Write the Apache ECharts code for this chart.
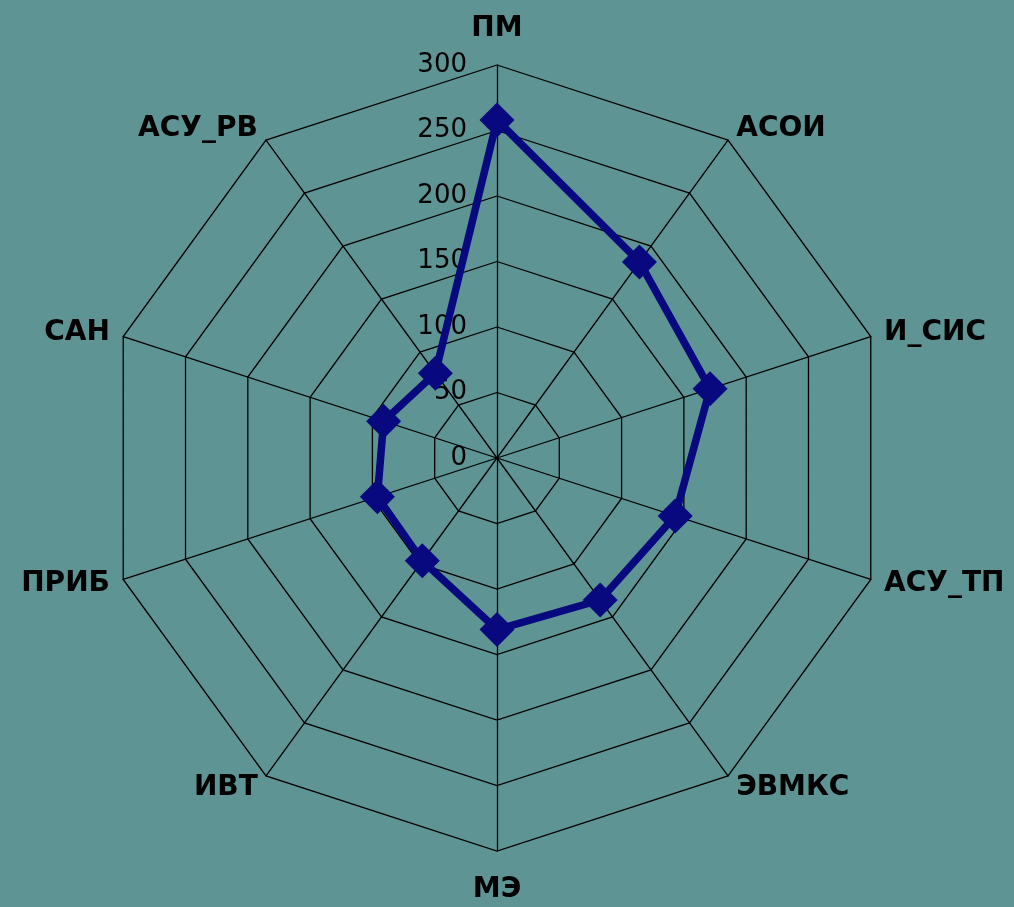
<!DOCTYPE html>
<html><head><meta charset="utf-8">
<script src="https://cdn.jsdelivr.net/npm/echarts@6/dist/echarts.min.js"></script>
<style>html,body{margin:0;padding:0;background:#5f9494;}#c{width:1014px;height:907px;}</style>
</head><body><div id="c"></div>
<script>
const categories = ['ПМ','АСОИ','И_СИС','АСУ_ТП','ЭВМКС','МЭ','ИВТ','ПРИБ','САН','АСУ_РВ'];
const values = [258,185,171,143,134,131,97,96,91,80];
const axisMax = 300;
const tickCount = 6;

// ECharts radar runs counter-clockwise; reorder so categories go clockwise from top
const order = categories.map((_, i) => i === 0 ? 0 : categories.length - i);
const font = 'DejaVu Sans';
const nameStyle = { color: '#000', fontSize: 28, fontWeight: 'bold', fontFamily: font };

const chart = echarts.init(document.getElementById('c'));
chart.setOption({
  backgroundColor: '#5f9494',
  animation: false,
  radar: {
    center: [497, 458],
    radius: 393,
    startAngle: 90,
    shape: 'polygon',
    splitNumber: tickCount,
    indicator: order.map((k, i) => {
      const o = { name: categories[k], min: 0, max: axisMax };
      if (i === 0) o.axisLabel = { show: true, color: '#000', fontSize: 26, fontFamily: font, margin: 30 };
      return o;
    }),
    axisName: Object.assign({}, nameStyle, {
      formatter: function (name) {
        if (name === categories[0]) return '{t|' + name + '}';
        if (name === categories[5]) return '{b|' + name + '}';
        return name;
      },
      rich: {
        t: Object.assign({}, nameStyle, { padding: [0, 0, 8, 0] }),
        b: Object.assign({}, nameStyle, { padding: [11, 0, 0, 0] })
      }
    }),
    nameGap: 14,
    axisLine: { lineStyle: { color: '#000', width: 1.3 } },
    splitLine: { lineStyle: { color: '#000', width: 1.3 } },
    splitArea: { show: false },
    axisTick: { show: false },
    axisLabel: { show: false }
  },
  series: [{
    type: 'radar',
    data: [{ value: order.map(k => values[k]) }],
    symbol: 'diamond',
    symbolSize: 35,
    lineStyle: { color: '#08087f', width: 7.5 },
    itemStyle: { color: '#08087f' }
  }]
});
</script></body></html>
